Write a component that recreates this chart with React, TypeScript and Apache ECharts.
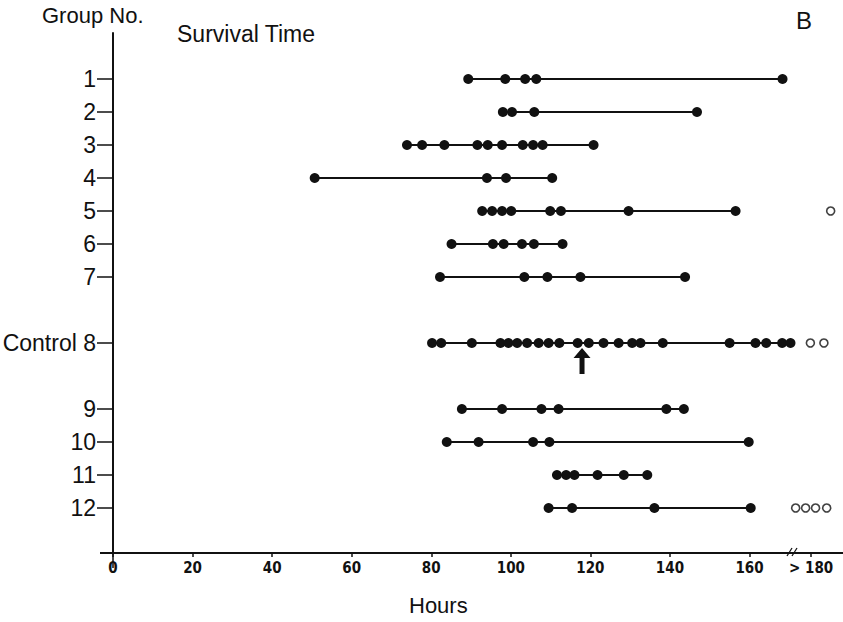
import React, { useEffect, useRef } from "react";
import * as echarts from "echarts";

// Row labels on the vertical axis (empty strings are spacer rows)
const rowLabels = ["1", "2", "3", "4", "5", "6", "7", "", "Control 8", "", "9", "10", "11", "12"];

// Survival times (hours) of animals that died, per group
const group1 = [89.3, 98.6, 103.6, 106.4, 168.3];
const group2 = [98.0, 100.3, 105.9, 146.8];
const group3 = [73.9, 77.7, 83.3, 91.6, 94.2, 97.8, 103.0, 105.6, 108.0, 120.8];
const group4 = [50.7, 94.0, 98.8, 110.4];
const group5 = [92.8, 95.3, 97.8, 100.1, 109.9, 112.6, 129.6, 156.5];
const group6 = [85.1, 95.5, 98.2, 102.8, 105.8, 113.0];
const group7 = [82.2, 103.4, 109.2, 117.5, 143.8];
const group8 = [80.2, 82.5, 90.2, 97.4, 99.4, 101.6, 104.1, 107.0, 109.5, 112.2, 116.8, 119.6, 123.3, 127.1, 130.5, 132.6, 138.2, 155.0, 161.5, 164.2, 168.2, 170.3];
const group9 = [87.7, 97.8, 107.7, 112.0, 139.1, 143.5];
const group10 = [83.9, 91.9, 105.6, 109.7, 159.8];
const group11 = [111.6, 113.9, 116.0, 121.8, 128.4, 134.3];
const group12 = [109.5, 115.4, 136.1, 160.3];

// Survivors (> 180 h), shown as open circles in the break zone
const survivors5 = [180.4];
const survivors8 = [175.3, 178.7];
const survivors12 = [171.6, 174.1, 176.6, 179.4];

// Median marker (arrow) of the control group
const controlMarker = 117.9;

// X tick values and their labels
const xTickValues = [0, 20, 40, 60, 80, 100, 120, 140, 160, 175.5];
const xTickLabels = ["0", "20", "40", "60", "80", "100", "120", "140", "160", "> 180"];

const groupLabels = ["1", "2", "3", "4", "5", "6", "7", "Control 8", "9", "10", "11", "12"];
const groupHours = [group1, group2, group3, group4, group5, group6, group7, group8, group9, group10, group11, group12];
const groupSurvivors: Record<string, number[]> = { "5": survivors5, "Control 8": survivors8, "12": survivors12 };

const INK = "#111";
const SANS = "'Liberation Sans', Arial, sans-serif";

export default function App() {
  const ref = useRef<HTMLDivElement>(null);
  useEffect(() => {
    if (!ref.current) return;
    const chart = echarts.init(ref.current, undefined, { renderer: "svg" });

    const rowIndex = (label: string) => rowLabels.indexOf(label);
    const yTickValues = rowLabels.map((l, i) => (l ? i : -1)).filter((i) => i >= 0);

    const lineSeries: any[] = groupLabels.map((label, gi) => {
      const y = rowIndex(label);
      const s: any = {
        type: "line",
        name: label,
        data: groupHours[gi].map((h) => [h, y]),
        symbol: "circle",
        symbolSize: 10,
        showAllSymbol: true,
        lineStyle: { color: INK, width: 1.8 },
        itemStyle: { color: INK },
        silent: true,
      };
      if (label === "Control 8") {
        s.markPoint = {
          silent: true,
          data: [
            {
              coord: [controlMarker, y],
              symbol: "path://M8.5 0 L17 10 L11 10 L11 26 L6 26 L6 10 L0 10 Z",
              symbolSize: [17, 26],
              symbolOffset: [0, 18],
              itemStyle: { color: INK },
              label: { show: false },
            },
          ],
        };
      }
      return s;
    });

    const openData: number[][] = [];
    Object.keys(groupSurvivors).forEach((label) => {
      groupSurvivors[label].forEach((h) => openData.push([h, rowIndex(label)]));
    });

    const option: any = {
      animation: false,
      backgroundColor: "#fff",
      grid: { left: 113, right: 0, top: 33, bottom: 69, containLabel: false, outerBoundsMode: "none" },
      xAxis: {
        type: "value",
        min: 0,
        max: 183.5,
        splitLine: { show: false },
        axisLine: { show: true, onZero: false, lineStyle: { color: INK, width: 2 } },
        axisTick: { show: true, length: 4, customValues: xTickValues, lineStyle: { color: INK, width: 1.5 } },
        axisLabel: {
          customValues: xTickValues,
          margin: 7,
          color: INK,
          fontSize: 15,
          fontWeight: "bold",
          fontFamily: "'Liberation Sans Narrow', 'DejaVu Sans Condensed', sans-serif",
          formatter: (v: number) => {
            let best = 0;
            xTickValues.forEach((t, i) => {
              if (Math.abs(t - v) < Math.abs(xTickValues[best] - v)) best = i;
            });
            return xTickLabels[best];
          },
        },
      },
      yAxis: {
        type: "value",
        inverse: true,
        min: -1.394,
        max: 14.364,
        splitLine: { show: false },
        axisLine: { show: true, onZero: false, lineStyle: { color: INK, width: 2 } },
        axisTick: { show: true, length: 16, customValues: yTickValues, lineStyle: { color: INK, width: 1.5 } },
        axisLabel: {
          customValues: yTickValues,
          margin: 17,
          color: INK,
          fontSize: 23,
          fontFamily: SANS,
          formatter: (v: number) => rowLabels[Math.round(v)] || "",
        },
      },
      graphic: [
        { type: "text", left: 42, top: 4, style: { text: "Group No.", fontSize: 22, fontFamily: SANS, fill: INK } },
        { type: "text", left: 177, top: 22, style: { text: "Survival Time", fontSize: 23, fontFamily: SANS, fill: INK } },
        { type: "text", left: 796, top: 8, style: { text: "B", fontSize: 24, fontFamily: SANS, fill: INK } },
        { type: "text", left: 409, top: 594, style: { text: "Hours", fontSize: 22, fontFamily: SANS, fill: INK } },
        { type: "line", shape: { x1: 100, y1: 553, x2: 114, y2: 553 }, style: { stroke: INK, lineWidth: 2 } },
        { type: "line", shape: { x1: 113, y1: 553, x2: 113, y2: 568 }, style: { stroke: INK, lineWidth: 1.5 } },
        { type: "line", shape: { x1: 787, y1: 556, x2: 792, y2: 548 }, style: { stroke: INK, lineWidth: 1.3 } },
        { type: "line", shape: { x1: 792, y1: 556, x2: 797, y2: 548 }, style: { stroke: INK, lineWidth: 1.3 } },
      ],
      series: [
        ...lineSeries,
        {
          type: "scatter",
          name: "Survivors",
          data: openData,
          symbol: "circle",
          symbolSize: 8,
          itemStyle: { color: "#fff", borderColor: INK, borderWidth: 1.6 },
          silent: true,
        },
      ],
    };
    chart.setOption(option);
    return () => chart.dispose();
  }, []);

  return <div ref={ref} style={{ position: "absolute", left: 0, top: 0, width: 843, height: 622 }} />;
}
